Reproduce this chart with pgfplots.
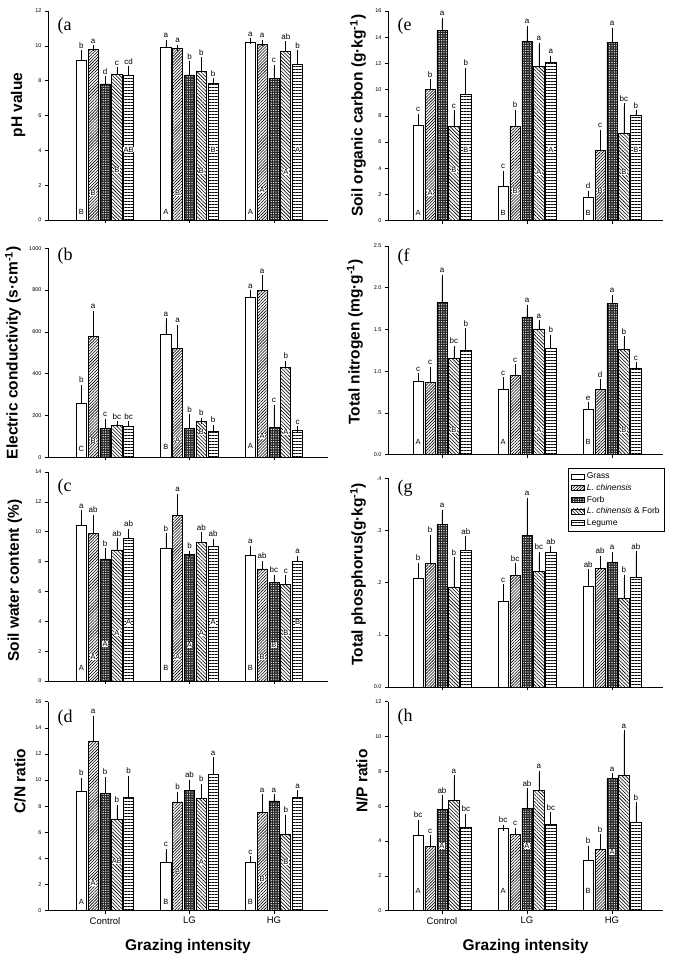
\documentclass[border=0pt]{standalone}
\usepackage{pgfplots}
\pgfplotsset{compat=1.18}
\usepackage{pgfplotstable}
\usetikzlibrary{patterns.meta}
\usepackage{fontspec}
\setmainfont{Liberation Sans}
\newfontfamily\serifpanel{Liberation Serif}
\newcommand\fs[1]{\fontsize{#1bp}{#1bp}\selectfont}

% g = grazing group (0 Control, 1 LG, 2 HG), s = species group (1..5)
% v = mean, e = SE, l = letter above bar, c = letter inside bar, h = its height
\pgfplotstableread{
g s v e l c h
0 1 9.15 0.42 b B 0.45
0 2 9.80 0.05 a B 1.55
0 3 7.81 0.28 d x nan
0 4 8.38 0.23 c B 2.85
0 5 8.28 0.37 cd AB 4.05
1 1 9.89 0.29 a A 0.45
1 2 9.85 0.04 a B 1.55
1 3 8.33 0.61 b x nan
1 4 8.51 0.67 b B 2.80
1 5 7.85 0.13 b B 4.05
2 1 10.22 0.03 a A 0.45
2 2 10.08 0.10 a A 1.70
2 3 8.13 0.62 c x nan
2 4 9.66 0.42 ab A 2.75
2 5 8.94 0.63 b A 4.05
}\tabA

\pgfplotstableread{
g s v e l c h
0 1 260 73 b C 40
0 2 579 109 a B 80
0 3 138 32 c x nan
0 4 154 5 bc x nan
0 5 146 12 bc x nan
1 1 590 60 a B 50
1 2 519 100 a A 85
1 3 138 53 b x nan
1 4 172 4 b B 122
1 5 122 19 b x nan
2 1 765 19 a A 55
2 2 797 60 a A 100
2 3 141 95 c x nan
2 4 430 18 b A 120
2 5 128 5 c x nan
}\tabB

\pgfplotstableread{
g s v e l c h
0 1 10.45 0.80 a A 0.85
0 2 9.90 1.05 ab A 1.6
0 3 8.18 0.52 b A 2.5
0 4 8.78 0.57 ab A 3.2
0 5 9.55 0.45 ab A 3.95
1 1 8.90 0.80 b B 0.85
1 2 11.10 1.23 a A 1.6
1 3 8.47 0.05 b A 2.4
1 4 9.30 0.45 ab A 3.2
1 5 9.00 0.33 ab A 3.95
2 1 8.40 0.45 a B 0.85
2 2 7.51 0.34 ab B 1.6
2 3 6.58 0.33 bc B 2.4
2 4 6.45 0.44 c B 3.2
2 5 8.00 0.18 a B 3.95
}\tabC

\pgfplotstableread{
g s v e l c h
0 1 9.17 0.79 b A 0.7
0 2 12.94 1.76 a A 2.1
0 3 8.97 1.07 b x nan
0 4 6.98 0.92 b AB 3.8
0 5 8.64 1.48 b x nan
1 1 3.70 0.80 c B 0.7
1 2 8.33 0.54 b B 3.0
1 3 9.20 0.60 ab x nan
1 4 8.59 0.91 b A 3.7
1 5 10.47 1.03 a x nan
2 1 3.67 0.25 c B 0.7
2 2 7.50 1.20 a B 2.4
2 3 8.40 0.30 a x nan
2 4 5.86 1.27 b B 3.7
2 5 8.64 0.36 a x nan
}\tabD

\pgfplotstableread{
g s v e l c h
0 1 7.29 0.63 c A 0.6
0 2 10.00 0.58 b A 2.1
0 3 14.50 0.76 a x nan
0 4 7.20 0.98 c B 3.85
0 5 9.63 1.81 b B 5.4
1 1 2.65 0.95 c B 0.6
1 2 7.16 1.07 b B 2.25
1 3 13.68 0.97 a x nan
1 4 11.75 1.60 a A 3.7
1 5 12.08 0.28 a A 5.4
2 1 1.76 0.30 d B 0.6
2 2 5.35 1.35 c B 2.3
2 3 13.63 0.87 a x nan
2 4 6.70 2.04 bc B 3.7
2 5 8.05 0.15 b B 5.4
}\tabE

\pgfplotstableread{
g s v e l c h
0 1 0.880 0.060 c A 0.15
0 2 0.866 0.154 c x nan
0 3 1.820 0.300 a x nan
0 4 1.150 0.120 bc B 0.3
0 5 1.250 0.230 b x nan
1 1 0.780 0.110 c A 0.15
1 2 0.945 0.100 c x nan
1 3 1.650 0.113 a x nan
1 4 1.507 0.065 a A 0.3
1 5 1.276 0.124 b x nan
2 1 0.547 0.047 e B 0.15
2 2 0.786 0.080 d x nan
2 3 1.810 0.070 a x nan
2 4 1.260 0.120 b B 0.3
2 5 1.040 0.033 c x nan
}\tabF

\pgfplotstableread{
g s v e l c h
0 1 0.209 0.023 b x nan
0 2 0.237 0.049 b x nan
0 3 0.311 0.023 a x nan
0 4 0.191 0.052 b x nan
0 5 0.262 0.021 ab x nan
1 1 0.165 0.026 c x nan
1 2 0.214 0.017 bc x nan
1 3 0.290 0.067 a x nan
1 4 0.221 0.032 bc x nan
1 5 0.259 0.005 ab x nan
2 1 0.193 0.027 ab x nan
2 2 0.227 0.019 ab x nan
2 3 0.238 0.015 a x nan
2 4 0.170 0.039 b x nan
2 5 0.210 0.044 ab x nan
}\tabG

\pgfplotstableread{
g s v e l c h
0 1 4.31 0.74 bc A 1.15
0 2 3.71 0.44 c x nan
0 3 5.82 0.63 ab A 3.7
0 4 6.32 1.28 a x nan
0 5 4.77 0.61 bc x nan
1 1 4.71 0.06 bc A 1.15
1 2 4.38 0.22 c x nan
1 3 5.86 0.99 ab A 3.7
1 4 6.91 0.94 a x nan
1 5 4.98 0.51 bc x nan
2 1 2.87 0.69 b B 1.15
2 2 3.52 0.71 b x nan
2 3 7.58 0.15 a A 3.35
2 4 7.79 2.39 a x nan
2 5 5.07 0.98 b x nan
}\tabH

\pgfplotsset{
  grass/.style={draw=black, line width=0.7bp, fill=white},
  lchin/.style={draw=black, line width=0.7bp, pattern={Lines[angle=45,distance=2.1bp,line width=0.6bp]}},
  forb/.style={draw=black, line width=0.7bp, fill=black!85,
    postaction={pattern={Dots[distance=2.4bp,radius=0.65bp]}, pattern color=white}},
  lcf/.style={draw=black, line width=0.7bp, pattern={Lines[angle=-45,distance=2.5bp,line width=0.6bp]}},
  legume/.style={draw=black, line width=0.7bp, pattern={Lines[angle=0,distance=3bp,line width=0.9bp]}},
  eb/.style={error bars/y dir=plus, error bars/y explicit,
    error bars/error bar style={black, line width=0.6bp},
    error bars/error mark options={black, line width=0.6bp, mark size=3bp}},
  panel/.style={
    scale only axis, ybar, bar width=0.12, clip=false,
    axis x line*=bottom, axis y line*=left,
    axis line style={black, line width=0.6bp},
    tick style={black, line width=0.5bp},
    tick align=outside, major tick length=3bp,
    xtick={0,1,2}, xticklabels={}, ymin=0,
    tick label style={font=\fs{5.5}},
    /pgf/number format/assume math mode=true,
    /pgf/number format/1000 sep={},
    scaled y ticks=false,
    ylabel style={font=\bfseries\fs{15.5}, anchor=center},
  },
  lpanel/.style={panel, width=280bp, xmin=-0.675, xmax=2.64},
  rpanel/.style={panel, width=275bp, xmin=-0.635, xmax=2.6},
  bottomrow/.style={xticklabels={Control,LG,HG}, xticklabel style={font=\fs{9.5}},
    xlabel={Grazing intensity},
    xlabel style={font=\bfseries\fs{15.5}, at={(axis description cs:0.5,0)}, anchor=center, yshift=-36bp}},
}

\newcommand\panelplots[1]{%
  \addplot[grass, bar shift=0pt, restrict expr to domain={\thisrow{s}}{1:1}, eb]
    table[x expr=\thisrow{g}+(\thisrow{s}-3)*0.14, y=v, y error=e] {#1};
  \addplot[lchin, bar shift=0pt, restrict expr to domain={\thisrow{s}}{2:2}, eb]
    table[x expr=\thisrow{g}+(\thisrow{s}-3)*0.14, y=v, y error=e] {#1};
  \addplot[forb, bar shift=0pt, restrict expr to domain={\thisrow{s}}{3:3}, eb]
    table[x expr=\thisrow{g}+(\thisrow{s}-3)*0.14, y=v, y error=e] {#1};
  \addplot[lcf, bar shift=0pt, restrict expr to domain={\thisrow{s}}{4:4}, eb]
    table[x expr=\thisrow{g}+(\thisrow{s}-3)*0.14, y=v, y error=e] {#1};
  \addplot[legume, bar shift=0pt, restrict expr to domain={\thisrow{s}}{5:5}, eb]
    table[x expr=\thisrow{g}+(\thisrow{s}-3)*0.14, y=v, y error=e] {#1};
  % letters above the error bars
  \addplot[draw=none, fill=none, bar shift=0pt, point meta=explicit symbolic,
    nodes near coords={\pgfplotspointmeta},
    nodes near coords style={anchor=base, yshift=5bp, font=\fs{8}, text=black}]
    table[x expr=\thisrow{g}+(\thisrow{s}-3)*0.14, y expr=\thisrow{v}+\thisrow{e}, meta=l] {#1};
  % letters inside the bars
  \addplot[draw=none, fill=none, bar shift=0pt, point meta=explicit symbolic,
    nodes near coords={\pgfplotspointmeta},
    nodes near coords style={anchor=center, fill=white, inner sep=0.3bp, font=\fs{7.5}, text=black}]
    table[x expr=\thisrow{g}+(\thisrow{s}-3)*0.14, y=h, meta=c] {#1};
}

\newcommand\plabel[2]{\node[anchor=west, font=\serifpanel\fs{18}, xshift=6bp, yshift=#2] at (axis description cs:0,1) {#1};}

\begin{document}
\begin{tikzpicture}
\useasboundingbox (0,0) rectangle (674bp,960bp);

% ---- left column
\begin{axis}[lpanel, at={(48bp,740bp)}, anchor=south west, height=209bp,
  ymax=12, ytick={0,2,...,12},
  ylabel={pH value}, ylabel style={at={(axis description cs:-0.107,0.55)}}]
  \panelplots{\tabA}
  \plabel{(a}{-15bp}
\end{axis}

\begin{axis}[lpanel, at={(48bp,502.7bp)}, anchor=south west, height=209bp,
  ymax=1000, ytick={0,200,...,1000},
  ylabel={Electric conductivity (s·cm\textsuperscript{-1})}, ylabel style={at={(axis description cs:-0.125,0.5)}}]
  \panelplots{\tabB}
  \plabel{(b}{-8bp}
\end{axis}

\begin{axis}[lpanel, at={(48bp,279bp)}, anchor=south west, height=209bp,
  ymax=14, ytick={0,2,...,14},
  ylabel={Soil water content (\%)}, ylabel style={at={(axis description cs:-0.118,0.48)}}]
  \panelplots{\tabC}
  \plabel{(c}{-15bp}
\end{axis}

\begin{axis}[lpanel, bottomrow, at={(48bp,49.3bp)}, anchor=south west, height=209bp,
  ymax=16, ytick={0,2,...,16},
  ylabel={C/N ratio}, ylabel style={at={(axis description cs:-0.1,0.62)}}]
  \panelplots{\tabD}
  \plabel{(d}{-16bp}
\end{axis}

% ---- right column
\begin{axis}[rpanel, at={(388bp,739.3bp)}, anchor=south west, height=209.7bp,
  ymax=16, ytick={0,2,...,16},
  ylabel={Soil organic carbon (g·kg\textsuperscript{-1})}, ylabel style={at={(axis description cs:-0.109,0.5)}}]
  \panelplots{\tabE}
  \plabel{(e}{-15bp}
\end{axis}

\begin{axis}[rpanel, at={(388bp,505.3bp)}, anchor=south west, height=208.7bp,
  ymax=2.5, ytick={0,0.5,1,1.5,2,2.5}, yticklabels={0.0,.5,1.0,1.5,2.0,2.5},
  ylabel={Total nitrogen (mg·g\textsuperscript{-1})}, ylabel style={at={(axis description cs:-0.12,0.54)}}]
  \panelplots{\tabF}
  \plabel{(f}{-11bp}
\end{axis}

\begin{axis}[rpanel, at={(388bp,273bp)}, anchor=south west, height=208.7bp,
  ymax=0.4, ytick={0,0.1,0.2,0.3,0.4}, yticklabels={0.0,.1,.2,.3,.4},
  ylabel={Total phosphorus(g·kg\textsuperscript{-1})}, ylabel style={at={(axis description cs:-0.109,0.54)}},
  legend style={at={(axis description cs:1.007,1.049)}, anchor=north east,
    draw=black, line width=0.7bp, font=\fontsize{8.5bp}{9.5bp}\selectfont, inner xsep=3bp, inner ysep=2.5bp,
    row sep=0bp, cells={anchor=west}},
  legend image code/.code={\draw[#1, line width=0.5bp] (0bp,-2.5bp) rectangle (13bp,2.5bp);}]
  \panelplots{\tabG}
  \legend{Grass, \textit{L. chinensis}, Forb, \textit{L. chinensis} \& Forb, Legume}
  \plabel{(g}{-10bp}
\end{axis}

\begin{axis}[rpanel, bottomrow, at={(388bp,49.3bp)}, anchor=south west, height=209bp,
  ymax=12, ytick={0,2,...,12},
  ylabel={N/P ratio}, ylabel style={at={(axis description cs:-0.095,0.62)}}]
  \panelplots{\tabH}
  \plabel{(h}{-15bp}
\end{axis}
\end{tikzpicture}
\end{document}
